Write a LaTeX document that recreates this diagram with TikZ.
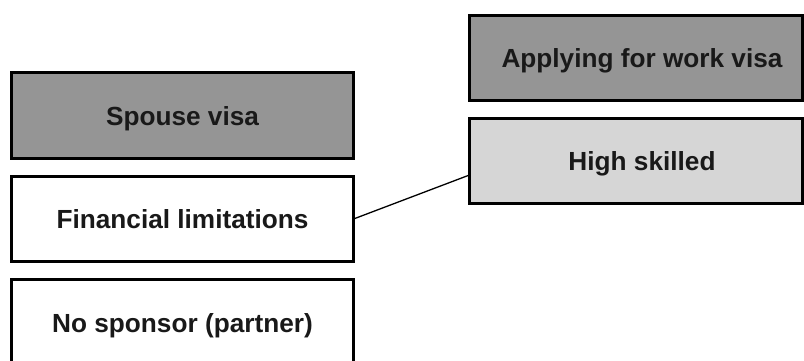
\documentclass[tikz,border=0pt]{standalone}
\usepackage{fontspec}
\setmainfont{Liberation Sans}
\usetikzlibrary{calc}
\definecolor{darkfill}{HTML}{959595}
\definecolor{lightfill}{HTML}{D6D6D6}
\tikzset{
  box/.style={draw=black, line width=3pt, rectangle, inner sep=0pt, outer sep=0pt,
    text height=19pt, text depth=0pt,
    font=\fontsize{26.2}{30}\selectfont\bfseries, text=black!90},
  leftbox/.style={box, minimum width=342pt, minimum height=86pt},
  rightbox/.style={box, minimum width=333pt, minimum height=85pt},
  link/.style={draw=black, line width=1.3pt}
}
\begin{document}
\begin{tikzpicture}[x=1pt,y=-1pt]
  \useasboundingbox (0,0) rectangle (804,361);
  % left column
  \node[leftbox, fill=darkfill] (spouse) at (182.5,115.5) {Spouse visa};
  \node[leftbox, fill=white, minimum height=85pt] (fin) at (182.5,219) {Financial limitations};
  \node[leftbox, fill=white] (nosp) at (182.5,322.5) {No sponsor (partner)};
  % right column (labels sit slightly right of centre)
  \node[rightbox, fill=darkfill] (apply) at (636,58) {\hspace*{12pt}Applying for work visa};
  \node[rightbox, fill=lightfill] (hs) at (636,161) {\hspace*{12pt}High skilled};
  % connector
  \draw[link] (fin.east) -- ($(hs.west)+(0,14)$);
\end{tikzpicture}
\end{document}
